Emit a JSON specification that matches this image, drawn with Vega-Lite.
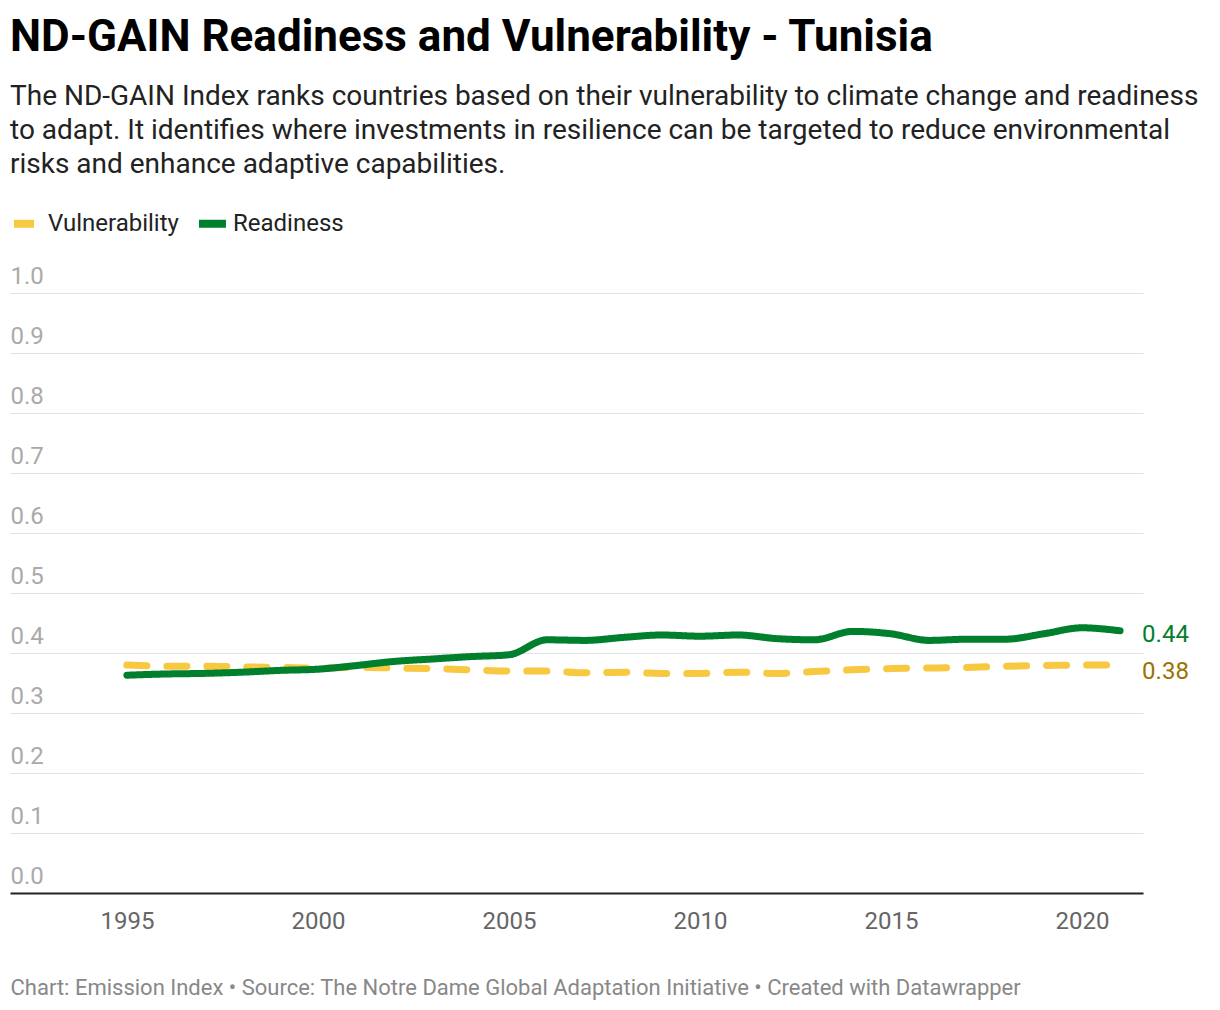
{
  "$schema": "https://vega.github.io/schema/vega-lite/v6.json",
  "autosize": "none",
  "width": 1133,
  "height": 600,
  "padding": {"left": 10, "top": 293, "right": 77, "bottom": 117},
  "background": "#ffffff",
  "title": {
    "text": "ND-GAIN Readiness and Vulnerability - Tunisia",
    "subtitle": [
      "The ND-GAIN Index ranks countries based on their vulnerability to climate change and readiness",
      "to adapt. It identifies where investments in resilience can be targeted to reduce environmental",
      "risks and enhance adaptive capabilities."
    ],
    "anchor": "start",
    "frame": "group",
    "font": "Roboto",
    "fontSize": 44,
    "fontWeight": "bold",
    "color": "#000000",
    "subtitleFont": "Roboto",
    "subtitleFontSize": 28,
    "subtitleColor": "#222222",
    "subtitleLineHeight": 34,
    "subtitlePadding": 23,
    "offset": 27
  },
  "data": {
    "values": [
      {"year": 1995, "series": "Vulnerability", "value": 0.380},
      {"year": 1996, "series": "Vulnerability", "value": 0.378},
      {"year": 1997, "series": "Vulnerability", "value": 0.378},
      {"year": 1998, "series": "Vulnerability", "value": 0.377},
      {"year": 1999, "series": "Vulnerability", "value": 0.376},
      {"year": 2000, "series": "Vulnerability", "value": 0.375},
      {"year": 2001, "series": "Vulnerability", "value": 0.376},
      {"year": 2002, "series": "Vulnerability", "value": 0.375},
      {"year": 2003, "series": "Vulnerability", "value": 0.374},
      {"year": 2004, "series": "Vulnerability", "value": 0.372},
      {"year": 2005, "series": "Vulnerability", "value": 0.370},
      {"year": 2006, "series": "Vulnerability", "value": 0.370},
      {"year": 2007, "series": "Vulnerability", "value": 0.367},
      {"year": 2008, "series": "Vulnerability", "value": 0.368},
      {"year": 2009, "series": "Vulnerability", "value": 0.366},
      {"year": 2010, "series": "Vulnerability", "value": 0.366},
      {"year": 2011, "series": "Vulnerability", "value": 0.368},
      {"year": 2012, "series": "Vulnerability", "value": 0.366},
      {"year": 2013, "series": "Vulnerability", "value": 0.369},
      {"year": 2014, "series": "Vulnerability", "value": 0.372},
      {"year": 2015, "series": "Vulnerability", "value": 0.374},
      {"year": 2016, "series": "Vulnerability", "value": 0.375},
      {"year": 2017, "series": "Vulnerability", "value": 0.376},
      {"year": 2018, "series": "Vulnerability", "value": 0.378},
      {"year": 2019, "series": "Vulnerability", "value": 0.379},
      {"year": 2020, "series": "Vulnerability", "value": 0.380},
      {"year": 2021, "series": "Vulnerability", "value": 0.380},
      {"year": 1995, "series": "Readiness", "value": 0.363},
      {"year": 1996, "series": "Readiness", "value": 0.365},
      {"year": 1997, "series": "Readiness", "value": 0.366},
      {"year": 1998, "series": "Readiness", "value": 0.368},
      {"year": 1999, "series": "Readiness", "value": 0.371},
      {"year": 2000, "series": "Readiness", "value": 0.373},
      {"year": 2001, "series": "Readiness", "value": 0.379},
      {"year": 2002, "series": "Readiness", "value": 0.386},
      {"year": 2003, "series": "Readiness", "value": 0.390},
      {"year": 2004, "series": "Readiness", "value": 0.394},
      {"year": 2005, "series": "Readiness", "value": 0.397},
      {"year": 2006, "series": "Readiness", "value": 0.422},
      {"year": 2007, "series": "Readiness", "value": 0.421},
      {"year": 2008, "series": "Readiness", "value": 0.426},
      {"year": 2009, "series": "Readiness", "value": 0.430},
      {"year": 2010, "series": "Readiness", "value": 0.428},
      {"year": 2011, "series": "Readiness", "value": 0.430},
      {"year": 2012, "series": "Readiness", "value": 0.424},
      {"year": 2013, "series": "Readiness", "value": 0.422},
      {"year": 2014, "series": "Readiness", "value": 0.436},
      {"year": 2015, "series": "Readiness", "value": 0.432},
      {"year": 2016, "series": "Readiness", "value": 0.421},
      {"year": 2017, "series": "Readiness", "value": 0.423},
      {"year": 2018, "series": "Readiness", "value": 0.423},
      {"year": 2019, "series": "Readiness", "value": 0.432},
      {"year": 2020, "series": "Readiness", "value": 0.442},
      {"year": 2021, "series": "Readiness", "value": 0.437}
    ]
  },
  "encoding": {
    "x": {
      "field": "year",
      "type": "quantitative",
      "scale": {"domain": [1991.94, 2021.6], "nice": false, "zero": false},
      "axis": {
        "values": [1995, 2000, 2005, 2010, 2015, 2020],
        "format": "d",
        "grid": false,
        "ticks": false,
        "domainColor": "#222222",
        "domainWidth": 2,
        "labelFont": "Roboto",
        "labelFontSize": 24,
        "labelColor": "#666666",
        "labelPadding": 16,
        "title": "Chart: Emission Index • Source: The Notre Dame Global Adaptation Initiative • Created with Datawrapper",
        "titleFont": "Roboto",
        "titleFontSize": 22,
        "titleFontWeight": "normal",
        "titleColor": "#888888",
        "titleAlign": "left",
        "titleAnchor": "start",
        "titleBaseline": "middle",
        "titleX": 0,
        "titleY": 94
      }
    },
    "y": {
      "field": "value",
      "type": "quantitative",
      "scale": {"domain": [0, 1], "nice": false},
      "axis": {
        "values": [0, 0.1, 0.2, 0.3, 0.4, 0.5, 0.6, 0.7, 0.8, 0.9, 1.0],
        "format": ".1f",
        "title": null,
        "domain": false,
        "ticks": false,
        "grid": true,
        "gridColor": "#e0e0e0",
        "gridWidth": 1,
        "labelFont": "Roboto",
        "labelFontSize": 24,
        "labelColor": "#aaaaaa",
        "labelAlign": "left",
        "labelBaseline": "alphabetic",
        "labelPadding": 0,
        "labelOffset": -10
      }
    }
  },
  "layer": [
    {
      "mark": {"type": "line", "interpolate": "monotone", "strokeWidth": 7, "strokeCap": "round"},
      "encoding": {
        "color": {
          "field": "series",
          "type": "nominal",
          "scale": {"domain": ["Vulnerability", "Readiness"], "range": ["#f8c840", "#007f2c"]},
          "legend": {
            "title": null,
            "orient": "none",
            "legendX": 0,
            "legendY": -87,
            "direction": "horizontal",
            "symbolType": "stroke",
            "symbolStrokeWidth": 8,
            "symbolSize": 729,
            "labelFont": "Roboto",
            "labelFontSize": 24,
            "labelColor": "#222222",
            "columnPadding": 4,
            "labelOffset": 3
          }
        },
        "strokeDash": {
          "field": "series",
          "type": "nominal",
          "scale": {"domain": ["Vulnerability", "Readiness"], "range": [[20, 20], [1, 0]]},
          "legend": null
        }
      }
    },
    {
      "transform": [{"filter": "datum.series === 'Readiness' && datum.year === 2021"}],
      "mark": {"type": "text", "align": "left", "baseline": "middle", "dx": 22, "dy": 4, "font": "Roboto", "fontSize": 24, "color": "#007f2c"},
      "encoding": {"text": {"field": "value", "type": "quantitative", "format": ".2f"}}
    },
    {
      "transform": [{"filter": "datum.series === 'Vulnerability' && datum.year === 2021"}],
      "mark": {"type": "text", "align": "left", "baseline": "middle", "dx": 22, "dy": 7, "font": "Roboto", "fontSize": 24, "color": "#9a7300"},
      "encoding": {"text": {"field": "value", "type": "quantitative", "format": ".2f"}}
    }
  ],
  "config": {
    "view": {"stroke": null}
  }
}
